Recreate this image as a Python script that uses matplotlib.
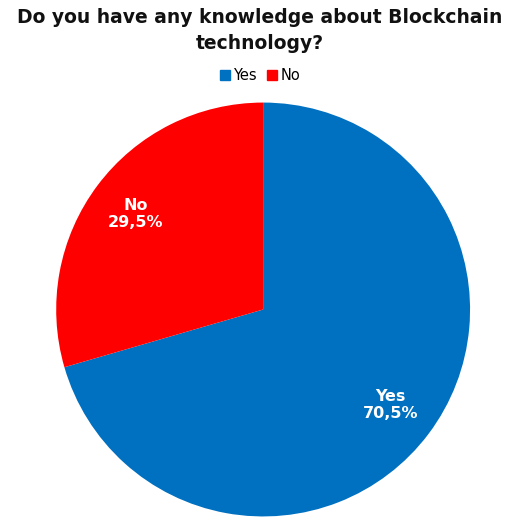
import matplotlib
matplotlib.use("Agg")
import matplotlib.pyplot as plt
import numpy as np
from matplotlib.lines import Line2D

labels = ["Yes", "No"]
shares = [70.5, 29.5]
colors = ["#0070C0", "#FF0000"]

fig = plt.figure(figsize=(5.19, 5.18), dpi=100)
fig.text(0.5, 0.985, "Do you have any knowledge about Blockchain\ntechnology?",
         ha="center", va="top", fontsize=13.5, fontweight="bold",
         family="DejaVu Sans", color="#111111", linespacing=1.45)

ax = fig.add_axes([0.108, 0.003, 0.798, 0.799])
wedges, _ = ax.pie(shares, colors=colors, startangle=90, counterclock=False,
                   wedgeprops={"linewidth": 0})
ax.set_xlim(-1, 1)
ax.set_ylim(-1, 1)
ax.set_aspect("equal")

# labels inside each slice: category name over the percentage
for w, lab, v in zip(wedges, labels, shares):
    ang = np.deg2rad((w.theta1 + w.theta2) / 2)
    r = 0.77
    ax.text(r * np.cos(ang), r * np.sin(ang), f"{lab}\n{v:.1f}%".replace(".", ","),
            ha="center", va="center", color="white", fontsize=11.5,
            fontweight="bold", linespacing=1.2)

handles = [Line2D([], [], marker="s", linestyle="", markersize=7,
                  markerfacecolor=c, markeredgecolor=c) for c in colors]
fig.legend(handles, labels, loc="center", bbox_to_anchor=(0.5, 0.855), ncol=2,
           frameon=False, fontsize=10.5, handletextpad=0.1, columnspacing=0.6,
           handlelength=0.9)

fig.savefig("out.png", dpi=100)
